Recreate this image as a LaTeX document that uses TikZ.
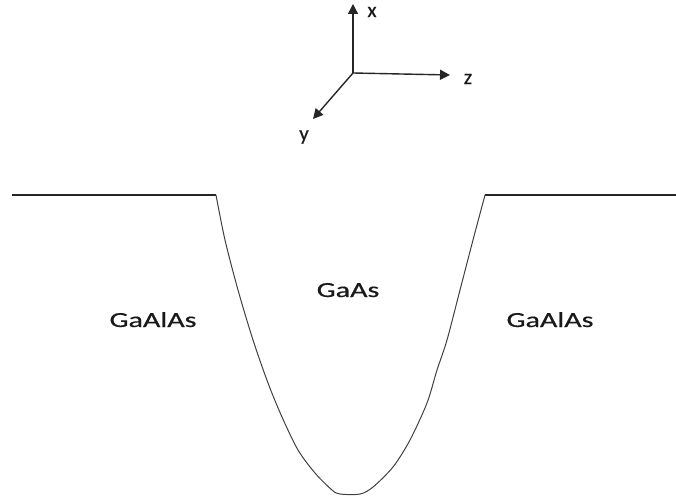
\documentclass[tikz,border=0pt]{standalone}
\usepackage{fontspec}
\setmainfont{Carlito}
\newfontfamily\matfont[FakeBold=0.5]{Carlito}
\usetikzlibrary{arrows.meta}
\begin{document}
\begin{tikzpicture}[x=1pt,y=-1pt,
  axis/.style={line width=1.4pt,draw=black!85,-{Triangle[length=10pt,width=10pt]}},
  lbl/.style={font=\matfont\fontsize{21}{24}\selectfont,inner sep=0pt,text=black!90},
  mat/.style={font=\matfont\fontsize{21.5}{24}\selectfont,inner sep=0pt,anchor=base,text=black!90},
  flat/.style={line width=1.4pt,draw=black!85},
  well/.style={line width=1pt,draw=black!75}]
\useasboundingbox (0,0) rectangle (676,497);
\coordinate (o) at (353,73);
\coordinate (xt) at (353,4);
\coordinate (zt) at (450,75);
\coordinate (yt) at (313,119);
\draw[axis] (o) -- (xt);
\draw[axis] (o) -- (zt);
\draw[axis] (o) -- (yt);
\node[lbl] (xl) at (372,12) {x};
\node[lbl] (zl) at (468,79) {z};
\node[lbl] (yl) at (304,137) {y};
\coordinate (l0) at (12,195);
\coordinate (l1) at (216,195);
\coordinate (r1) at (485,195);
\coordinate (r0) at (676,195);
\draw[flat] (l0) -- (l1);
\draw[flat] (r1) -- (r0);
\draw[well] plot[smooth,tension=0.5] coordinates {(216,195) (225,240) (238,290) (253,340) (268,383) (282,417) (298,450) (315,473) (332,490) (340,494) (360,494) (373,487) (393,467) (410,440) (427,403) (437,370) (447,340) (460,290) (473,240) (485,195)};
\node[mat] (gaas) at (348,297) {\scalebox{1.4}[1]{GaAs}};
\node[mat] (gl) at (153,327) {\scalebox{1.4}[1]{GaAlAs}};
\node[mat] (gr) at (550,327) {\scalebox{1.4}[1]{GaAlAs}};
\end{tikzpicture}
\end{document}
